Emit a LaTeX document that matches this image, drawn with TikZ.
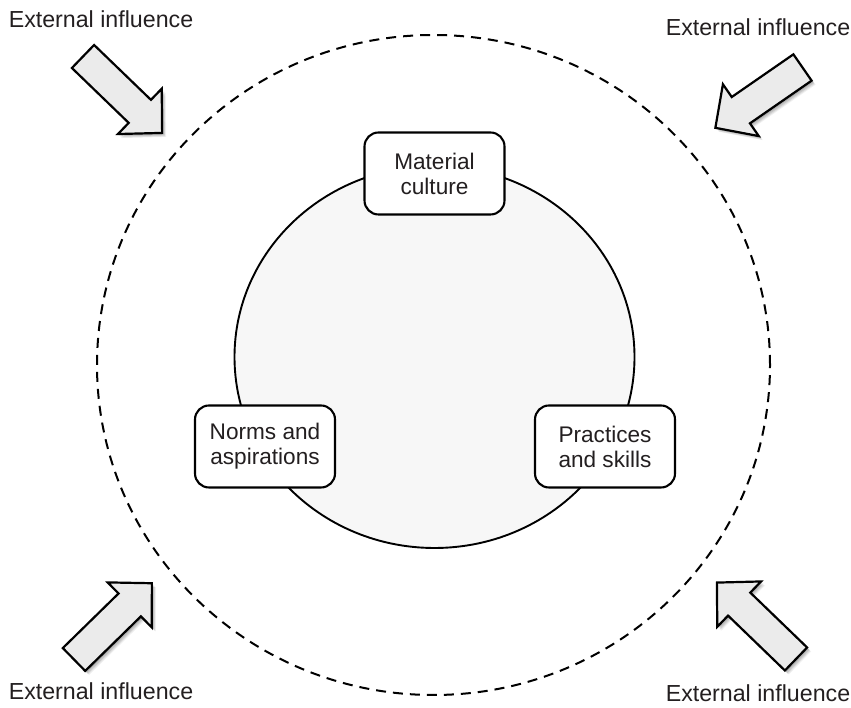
\documentclass[tikz,border=0pt]{standalone}
\usepackage{fontspec}
\setmainfont{Liberation Sans}
\definecolor{txt}{HTML}{231F20}
\definecolor{arrowfill}{HTML}{EBEBEB}
\definecolor{innerfill}{HTML}{F7F7F7}
\tikzset{
  box/.style={draw=black, line width=2.1pt, fill=white, rounded corners=14pt,
    minimum width=140pt, minimum height=82pt, align=center, text=txt,
    font=\fontsize{22.6}{25}\selectfont},
  extlabel/.style={anchor=base, text=txt, inner sep=0pt, font=\fontsize{23.2}{26}\selectfont},
  arrowshape/.style={draw=black, line width=2.2pt, fill=arrowfill, line join=miter},
  arrowpath/.style={insert path={(0,-16) -- (#1-31,-16) -- (#1-31,-31.5) -- (#1,0) -- (#1-31,31.5) -- (#1-31,16) -- (0,16) -- cycle}},
}
% #1 x, #2 y, #3 angle, #4 length
\newcommand{\blockarrow}[4]{%
  \foreach \dx/\dy/\op in {4/-4/0.06, 3/-3.5/0.08, 2.5/-2.5/0.10, 1.5/-1.5/0.12}{%
    \begin{scope}[shift={(#1+\dx,#2+\dy)}, rotate=#3]
      \fill[black, opacity=\op, arrowpath=#4];
    \end{scope}}
  \begin{scope}[shift={(#1,#2)}, rotate=#3]
    \draw[arrowshape, arrowpath=#4];
  \end{scope}}
\begin{document}
\begin{tikzpicture}[x=1pt, y=1pt]
\useasboundingbox (0,0) rectangle (851,708);
% outer dashed circle
\draw[line width=2pt, dash pattern=on 10pt off 7pt] (433.5,343) ellipse [x radius=336.5, y radius=330];
% inner circle
\draw[line width=1.9pt, fill=innerfill] (434.5,351) ellipse [x radius=200, y radius=191];
% boxes
\node[box] (mat) at (434.5,534.5) {Material\\culture};
\node[box] (norms) at (265,261.5) {Norms and\\aspirations};
\node[box] (prac) at (605,261.5) {Practices\\and skills};
% arrows
\blockarrow{83}{651.5}{-44}{110}
\blockarrow{802.5}{640.5}{214.7}{106}
\blockarrow{74}{48.5}{44.4}{109}
\blockarrow{796}{49}{136}{110}
% labels
\node[extlabel] (tl) at (101,680.3) {External influence};
\node[extlabel] (tr) at (758,672) {External influence};
\node[extlabel] (bl) at (101,8) {External influence};
\node[extlabel] (br) at (758,6) {External influence};
\end{tikzpicture}
\end{document}
